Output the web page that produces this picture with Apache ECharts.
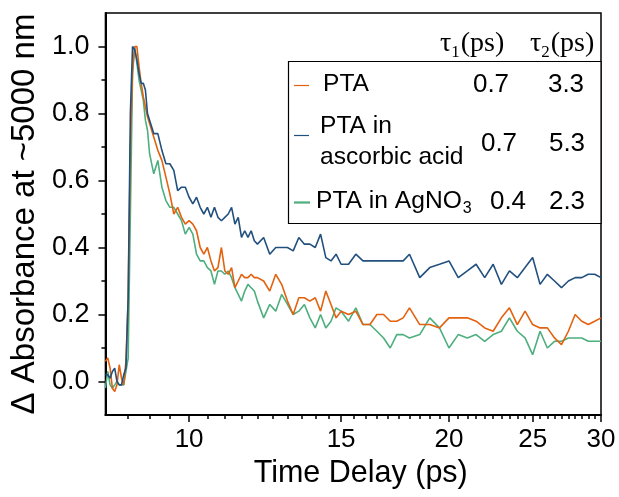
<!DOCTYPE html>
<html>
<head>
<meta charset="utf-8">
<script src="https://cdn.jsdelivr.net/npm/echarts/dist/echarts.min.js"></script>
<style>html,body{margin:0;padding:0;background:#fff;}#c{width:619px;height:497px;}</style>
</head>
<body>
<div id="c"></div>
<script>
// ---- data (time in ps, normalized ΔA) ----
const times = [8.0,8.05,8.1,8.15,8.2,8.25,8.3,8.35,8.4,8.45,8.5,8.55,8.6,8.65,8.7,8.75,8.8,8.85,8.9,8.95,
  9.0,9.1,9.2,9.3,9.4,9.5,9.6,9.7,9.8,9.9,10.0,10.1,10.2,10.3,10.4,10.5,10.6,10.7,10.8,10.9,
  11.0,11.1,11.2,11.3,11.4,11.5,11.6,11.7,11.8,11.9,12.0,12.2,12.4,12.6,12.8,13.0,13.2,13.4,13.6,13.8,
  14.0,14.2,14.4,14.6,14.8,15.0,15.3,15.6,15.9,16.2,16.5,16.8,17.1,17.4,17.7,18.0,18.5,19.0,19.5,20.0,
  20.5,21.0,21.5,22.0,22.5,23.0,23.5,24.0,24.5,25.0,25.5,26.0,26.5,27.0,27.5,28.0,28.5,29.0,29.5,30.0];
const ptaValues = [0.06,0.07,0.04,-0.02,-0.03,-0.01,0.05,0.01,-0.01,0.06,
  0.25,0.70,0.93,1.0,1.0,0.94,0.89,0.85,0.82,0.79,
  0.77,0.73,0.69,0.66,0.61,0.56,0.50,0.52,0.49,0.47,
  0.48,0.47,0.45,0.40,0.38,0.40,0.36,0.33,0.34,0.40,
  0.33,0.32,0.34,0.28,0.30,0.32,0.31,0.31,0.32,0.31,
  0.31,0.30,0.27,0.32,0.29,0.24,0.20,0.25,0.25,0.24,
  0.25,0.21,0.27,0.23,0.19,0.21,0.20,0.21,0.17,0.17,
  0.20,0.20,0.18,0.18,0.19,0.22,0.17,0.17,0.16,0.19,
  0.19,0.19,0.18,0.16,0.15,0.19,0.22,0.17,0.21,0.17,
  0.16,0.16,0.13,0.11,0.15,0.20,0.18,0.17,0.18,0.19];
const ascorbicValues = [0.02,0.02,0.01,0.03,0.04,0.00,-0.01,-0.01,0.02,0.04,
  0.25,0.80,1.0,0.99,0.96,0.92,0.89,0.89,0.87,0.80,
  0.78,0.74,0.74,0.69,0.65,0.65,0.63,0.57,0.58,0.58,
  0.55,0.53,0.55,0.52,0.50,0.52,0.49,0.52,0.49,0.48,
  0.49,0.50,0.52,0.47,0.49,0.43,0.45,0.43,0.45,0.42,
  0.41,0.43,0.38,0.40,0.40,0.40,0.39,0.43,0.41,0.41,
  0.40,0.44,0.37,0.36,0.38,0.35,0.35,0.38,0.36,0.36,
  0.36,0.36,0.36,0.36,0.36,0.38,0.31,0.34,0.35,0.36,
  0.31,0.33,0.35,0.31,0.35,0.29,0.33,0.31,0.34,0.37,
  0.29,0.32,0.30,0.28,0.30,0.31,0.31,0.32,0.32,0.31];
const agno3Values = [-0.02,0.03,-0.01,-0.02,-0.01,0.00,-0.01,-0.01,-0.01,0.03,
  0.07,0.50,0.92,1.0,0.95,0.90,0.87,0.84,0.78,0.75,
  0.68,0.62,0.66,0.58,0.54,0.52,0.52,0.50,0.48,0.44,
  0.46,0.44,0.38,0.36,0.36,0.34,0.33,0.29,0.33,0.33,
  0.32,0.33,0.31,0.28,0.26,0.24,0.27,0.29,0.28,0.27,
  0.24,0.19,0.23,0.21,0.26,0.23,0.20,0.21,0.23,0.19,
  0.16,0.20,0.16,0.18,0.22,0.21,0.18,0.22,0.17,0.17,
  0.15,0.13,0.10,0.14,0.14,0.13,0.14,0.19,0.16,0.10,
  0.14,0.13,0.14,0.12,0.14,0.15,0.19,0.15,0.13,0.08,
  0.15,0.10,0.12,0.12,0.13,0.13,0.13,0.12,0.12,0.12];
const seriesNames = ['PTA', 'PTA in ascorbic acid', 'PTA in AgNO3'];
const tau1 = ['0.7', '0.7', '0.4'];
const tau2 = ['3.3', '5.3', '2.3'];
const xTickLabels = [10, 15, 20, 25, 30];
const yTickLabels = [0, 0.2, 0.4, 0.6, 0.8, 1.0];
const yMinorTicks = [0.1, 0.3, 0.5, 0.7, 0.9];
const xMin = 8, xMax = 30;

const colors = ['#E2620F', '#22507E', '#4DAE7E'];
const xMinorTicks = [];
for (let v = 8.5; v < 30; v += 0.5) { if (xTickLabels.indexOf(v) < 0) xMinorTicks.push(v); }

const SANS = '"Liberation Sans", Arial, sans-serif';
const SERIF = '"Liberation Serif", "Times New Roman", serif';

const mctx = document.createElement('canvas').getContext('2d');
function textW(str, font) { mctx.font = font; return mctx.measureText(str).width; }

const pair = vals => times.map((t, i) => [t, vals[i]]);
const lg = Math.log10;

const chart = echarts.init(document.getElementById('c'), null, {renderer: 'canvas'});
const helperX = (vals, len) => ({
  type: 'value', min: lg(xMin), max: lg(xMax), gridIndex: 0, position: 'bottom',
  splitLine: {show: false}, axisLine: {show: false, onZero: false}, axisLabel: {show: false},
  axisTick: {show: true, customValues: vals.map(lg), length: len, lineStyle: {color: '#000', width: 1.5}}
});
const yBase = {type: 'value', min: -0.1, max: 1.1, gridIndex: 0, position: 'left', splitLine: {show: false}};

const LF = '24.6px ' + SANS;   // legend label font
const NF = '26px ' + SANS;     // legend number font
const HF = '28px ' + SERIF;    // header font
const SF = '17px ' + SERIF;    // header subscript font
const tauW = textW('τ', HF), subW = textW('1', SF);
const header = (x0, sub) => [
  {type: 'text', x: x0, y: 44, z: 11, style: {text: 'τ', font: HF, fill: '#000', textVerticalAlign: 'middle'}},
  {type: 'text', x: x0 + tauW, y: 53, z: 11, style: {text: sub, font: SF, fill: '#000', textVerticalAlign: 'middle'}},
  {type: 'text', x: x0 + tauW + subW + 1, y: 44, z: 11, style: {text: '(ps)', font: HF, fill: '#000', textVerticalAlign: 'middle'}}
];
const agW = textW('PTA in AgNO', LF);

chart.setOption({
  animation: false,
  backgroundColor: '#fff',
  grid: {left: 102, right: 18, top: 13, bottom: 82, show: true, borderColor: '#000', borderWidth: 1.5, backgroundColor: 'transparent'},
  xAxis: [
    {
      type: 'log', logBase: 10, min: xMin, max: xMax, gridIndex: 0, position: 'bottom',
      splitLine: {show: false},
      name: 'Time Delay (ps)', nameLocation: 'middle', nameGap: 37,
      nameTextStyle: {fontFamily: SANS, fontSize: 30.5, color: '#000', padding: [0, 0, 0, 15]},
      axisLine: {show: true, onZero: false, lineStyle: {color: '#000', width: 2}},
      axisTick: {show: false},
      axisLabel: {show: true, customValues: xTickLabels, margin: 12, fontFamily: SANS, fontSize: 26, color: '#000'}
    },
    helperX(xTickLabels, 7),
    helperX(xMinorTicks, 4)
  ],
  yAxis: [
    Object.assign({}, yBase, {
      name: 'Δ Absorbance at ~5000 nm', nameLocation: 'middle', nameGap: 60, nameRotate: 90,
      nameTextStyle: {fontFamily: SANS, fontSize: 33, color: '#000'},
      axisLine: {show: true, onZero: false, lineStyle: {color: '#000', width: 2}},
      axisTick: {show: true, customValues: yTickLabels, length: 7, lineStyle: {color: '#000', width: 1.5}},
      axisLabel: {show: true, customValues: yTickLabels, margin: 16, fontFamily: SANS, fontSize: 27, color: '#000',
        formatter: v => Number(v).toFixed(1)}
    }),
    Object.assign({}, yBase, {
      axisLine: {show: false, onZero: false},
      axisTick: {show: true, customValues: yMinorTicks, length: 4, lineStyle: {color: '#000', width: 1.5}},
      axisLabel: {show: false}
    })
  ],
  series: [
    {name: seriesNames[0], type: 'line', data: pair(ptaValues), showSymbol: false, symbol: 'none',
      lineStyle: {color: colors[0], width: 1.6}, z: 3},
    {name: seriesNames[2], type: 'line', data: pair(agno3Values), showSymbol: false, symbol: 'none',
      lineStyle: {color: colors[2], width: 1.6}, z: 2},
    {name: seriesNames[1], type: 'line', data: pair(ascorbicValues), showSymbol: false, symbol: 'none',
      lineStyle: {color: colors[1], width: 1.6}, z: 4}
  ],
  graphic: [
    {type: 'rect', shape: {x: 288.5, y: 61.5, width: 312.5, height: 162}, z: 10,
      style: {fill: '#fff', stroke: '#000', lineWidth: 1.2}},
    ...header(440, '1'),
    ...header(530, '2'),
    // row 1
    {type: 'line', z: 11, shape: {x1: 294, y1: 85.5, x2: 309, y2: 85.5}, style: {stroke: colors[0], lineWidth: 1.2}},
    {type: 'text', x: 323, y: 84, z: 11, style: {text: 'PTA', font: LF, fill: '#000', textVerticalAlign: 'middle'}},
    {type: 'text', x: 491, y: 85, z: 11, style: {text: tau1[0], font: NF, fill: '#000', textAlign: 'center', textVerticalAlign: 'middle'}},
    {type: 'text', x: 566, y: 85, z: 11, style: {text: tau2[0], font: NF, fill: '#000', textAlign: 'center', textVerticalAlign: 'middle'}},
    // row 2
    {type: 'line', z: 11, shape: {x1: 294, y1: 135.5, x2: 309, y2: 135.5}, style: {stroke: colors[1], lineWidth: 1.2}},
    {type: 'text', x: 320, y: 126, z: 11, style: {text: 'PTA in', font: LF, fill: '#000', textVerticalAlign: 'middle'}},
    {type: 'text', x: 320, y: 157, z: 11, style: {text: 'ascorbic acid', font: LF, fill: '#000', textVerticalAlign: 'middle'}},
    {type: 'text', x: 499, y: 144, z: 11, style: {text: tau1[1], font: NF, fill: '#000', textAlign: 'center', textVerticalAlign: 'middle'}},
    {type: 'text', x: 567, y: 144, z: 11, style: {text: tau2[1], font: NF, fill: '#000', textAlign: 'center', textVerticalAlign: 'middle'}},
    // row 3
    {type: 'line', z: 11, shape: {x1: 294, y1: 202.5, x2: 310, y2: 202.5}, style: {stroke: colors[2], lineWidth: 2.2}},
    {type: 'text', x: 316, y: 201, z: 11, style: {text: 'PTA in AgNO', font: LF, fill: '#000', textVerticalAlign: 'middle'}},
    {type: 'text', x: 316 + agW + 1, y: 209, z: 11, style: {text: '3', font: '16px ' + SANS, fill: '#000', textVerticalAlign: 'middle'}},
    {type: 'text', x: 508, y: 202, z: 11, style: {text: tau1[2], font: NF, fill: '#000', textAlign: 'center', textVerticalAlign: 'middle'}},
    {type: 'text', x: 567, y: 202, z: 11, style: {text: tau2[2], font: NF, fill: '#000', textAlign: 'center', textVerticalAlign: 'middle'}}
  ]
});
</script>
</body>
</html>
